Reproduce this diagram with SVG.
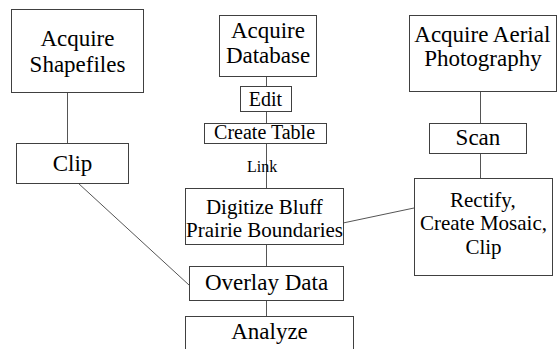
<svg xmlns="http://www.w3.org/2000/svg" width="557" height="349" viewBox="0 0 557 349">
<style>
.box{fill:#fff;stroke:#404040;stroke-width:1}
.c line{stroke:#555;stroke-width:1}
</style>
<rect x="0" y="0" width="557" height="349" fill="#fff"/>
<g id="connectors" class="c">
<line x1="67.5" y1="92" x2="67.5" y2="143"/>
<line x1="480.5" y1="91" x2="480.5" y2="123"/>
<line x1="480.5" y1="153" x2="480.5" y2="178"/>
<line x1="266.5" y1="76" x2="266.5" y2="86"/>
<line x1="266.5" y1="111" x2="266.5" y2="123"/>
<line x1="266.5" y1="143" x2="266.5" y2="188"/>
<line x1="266.5" y1="244" x2="266.5" y2="266"/>
<line x1="266.5" y1="300" x2="266.5" y2="316"/>
<line x1="78" y1="183" x2="189" y2="285"/>
<line x1="343" y1="223" x2="414" y2="208"/>
</g>
<text x="247" y="172" style="font-family:'Liberation Serif';font-size:16px">Link</text>
<g id="acquire-shapefiles">
<rect class="box" x="11.5" y="9.5" width="132" height="83"/>
<text x="40.4" y="46" style="font-family:'Liberation Serif';font-size:23px">Acquire</text>
<text x="29.6" y="72" style="font-family:'Liberation Serif';font-size:23px">Shapefiles</text>
</g>
<g id="clip">
<rect class="box" x="16.5" y="143.5" width="112" height="40"/>
<text x="52.7" y="171" style="font-family:'Liberation Serif';font-size:23px">Clip</text>
</g>
<g id="acquire-database">
<rect class="box" x="219.5" y="15.5" width="97" height="61"/>
<text x="230.9" y="38" style="font-family:'Liberation Serif';font-size:23px">Acquire</text>
<text x="225.9" y="63" style="font-family:'Liberation Serif';font-size:23px">Database</text>
</g>
<g id="edit">
<rect class="box" x="240.5" y="86.5" width="51" height="25"/>
<text x="248.8" y="106" style="font-family:'Liberation Serif';font-size:20px">Edit</text>
</g>
<g id="create-table">
<rect class="box" x="204.5" y="123.5" width="122" height="20"/>
<text x="214.1" y="139" style="font-family:'Liberation Serif';font-size:20px">Create Table</text>
</g>
<g id="acquire-aerial">
<rect class="box" x="409.5" y="15.5" width="147" height="76"/>
<text x="414.3" y="42" style="font-family:'Liberation Serif';font-size:23px">Acquire Aerial</text>
<text x="424.2" y="66" style="font-family:'Liberation Serif';font-size:23px">Photography</text>
</g>
<g id="scan">
<rect class="box" x="429.5" y="123.5" width="97" height="30"/>
<text x="455.6" y="145" style="font-family:'Liberation Serif';font-size:23px">Scan</text>
</g>
<g id="rectify">
<rect class="box" x="414.5" y="178.5" width="138" height="97"/>
<text x="450" y="207" style="font-family:'Liberation Serif';font-size:21px">Rectify,</text>
<text x="419.9" y="230" style="font-family:'Liberation Serif';font-size:21px">Create Mosaic,</text>
<text x="465.4" y="254" style="font-family:'Liberation Serif';font-size:21px">Clip</text>
</g>
<g id="digitize">
<rect class="box" x="185.5" y="188.5" width="158" height="56"/>
<text x="205.9" y="214" style="font-family:'Liberation Serif';font-size:21px">Digitize Bluff</text>
<text x="186.1" y="237" style="font-family:'Liberation Serif';font-size:21px">Prairie Boundaries</text>
</g>
<g id="overlay">
<rect class="box" x="189.5" y="266.5" width="154" height="34"/>
<text x="204.9" y="290" style="font-family:'Liberation Serif';font-size:23px">Overlay Data</text>
</g>
<g id="analyze">
<rect class="box" x="185.5" y="316.5" width="168" height="40"/>
<text x="231.2" y="339" style="font-family:'Liberation Serif';font-size:23px">Analyze</text>
</g>
</svg>
